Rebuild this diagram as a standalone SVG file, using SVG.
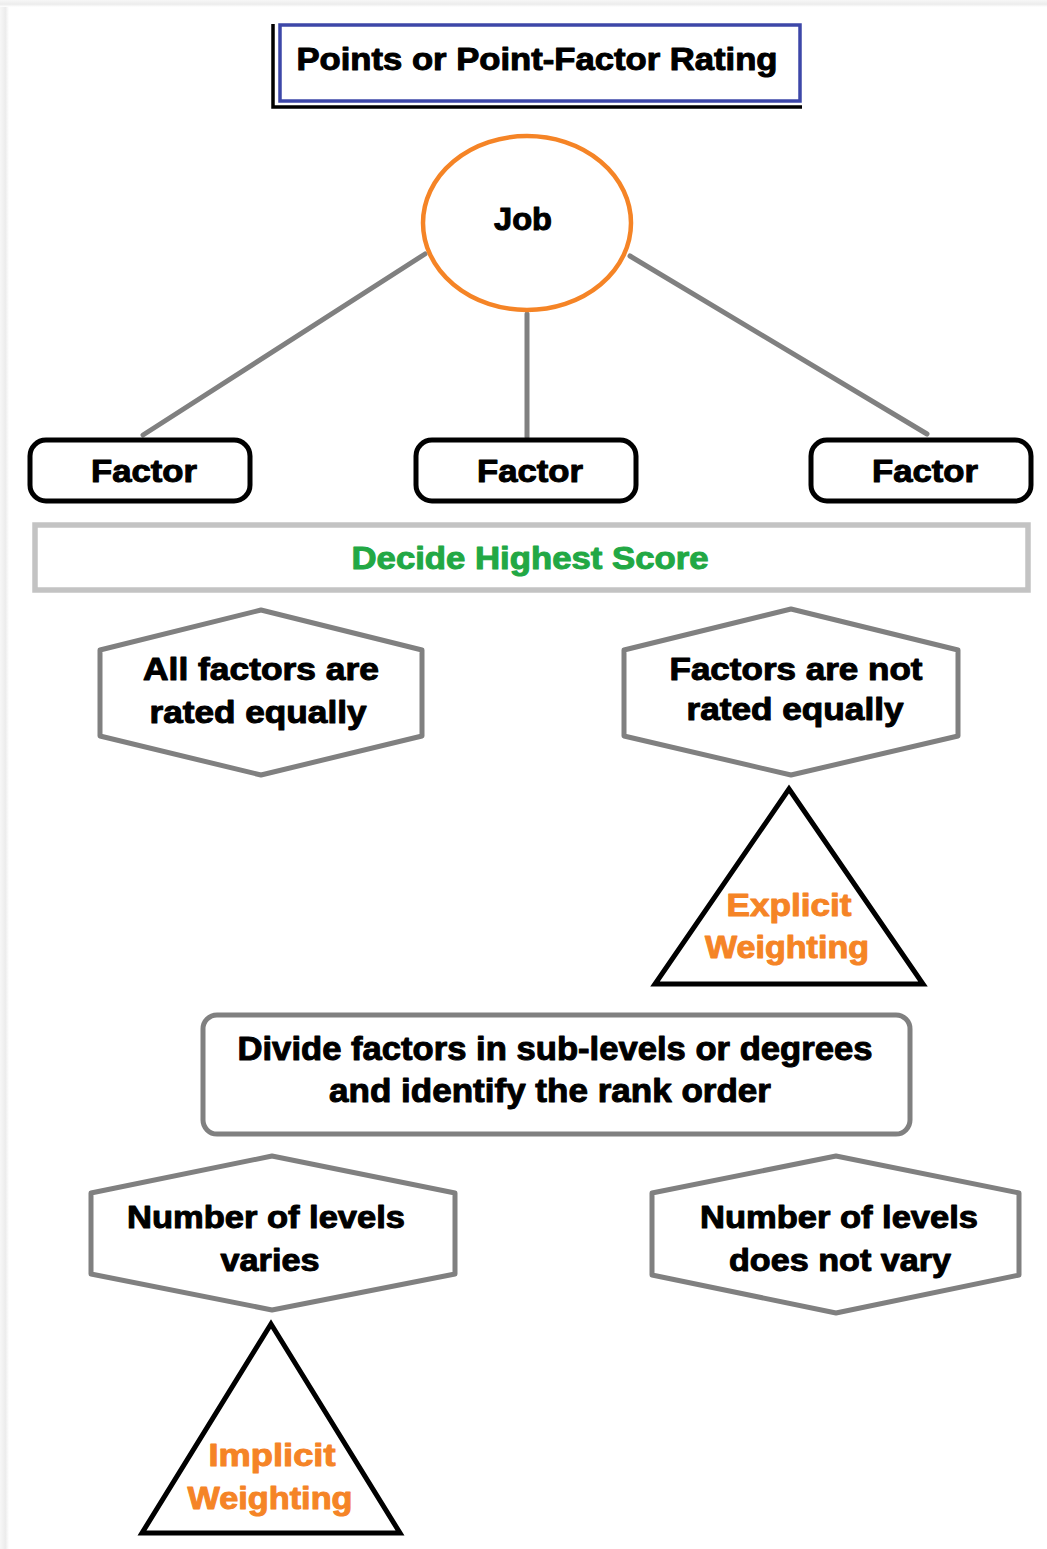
<svg xmlns="http://www.w3.org/2000/svg" width="1047" height="1549" viewBox="0 0 1047 1549">
  <defs>
    <linearGradient id="edgeL" x1="0" y1="0" x2="1" y2="0">
      <stop offset="0" stop-color="#f7f7f7"/>
      <stop offset="0.6" stop-color="#ececec"/>
      <stop offset="1" stop-color="#ffffff"/>
    </linearGradient>
    <linearGradient id="edgeT" x1="0" y1="0" x2="0" y2="1">
      <stop offset="0" stop-color="#f7f7f7"/>
      <stop offset="0.6" stop-color="#ececec"/>
      <stop offset="1" stop-color="#ffffff"/>
    </linearGradient>
  </defs>
  <style>
    text { font-family: "Liberation Sans", Arial, sans-serif; font-weight: bold; font-size: 31px; text-anchor: middle; stroke-width: 1; stroke-linejoin: round; }
    .dark { fill: #000000; stroke: #000000; }
    .orange { fill: #f58426; stroke: #f58426; }
    .green { fill: #22a844; stroke: #22a844; }
    .tall { font-size: 33px; }
    .hex { fill: #ffffff; stroke: #808080; stroke-width: 5; stroke-linejoin: round; }
    .tri { fill: #ffffff; stroke: #000000; stroke-width: 5; stroke-linejoin: miter; }
    .factor { fill: #ffffff; stroke: #000000; stroke-width: 5; }
    .link { stroke: #808080; stroke-width: 5; stroke-linecap: round; fill: none; }
  </style>

  <!-- page -->
  <rect x="0" y="0" width="1047" height="1549" fill="#ffffff"/>
  <rect x="0" y="0" width="9" height="1549" fill="url(#edgeL)"/>
  <rect x="0" y="0" width="1047" height="7" fill="url(#edgeT)"/>

  <!-- connectors from Job to the factors -->
  <g id="connectors">
    <line class="link" x1="425" y1="254" x2="143" y2="435"/>
    <line class="link" x1="527" y1="314" x2="527" y2="437"/>
    <line class="link" x1="630" y1="256" x2="927" y2="434"/>
  </g>

  <!-- title -->
  <g id="title">
    <polyline points="273,24 273,107 802,107" fill="none" stroke="#000000" stroke-width="3.5"/>
    <rect x="280" y="25" width="520" height="76" fill="#ffffff" stroke="#3d47a8" stroke-width="3.5"/>
    <text class="dark" x="537" y="70" textLength="481" lengthAdjust="spacingAndGlyphs">Points or Point-Factor Rating</text>
  </g>

  <!-- job -->
  <g id="job">
    <ellipse cx="527" cy="223" rx="104" ry="87" fill="#ffffff" stroke="#f58426" stroke-width="4.5"/>
    <text class="dark" x="523" y="230" textLength="58" lengthAdjust="spacingAndGlyphs">Job</text>
  </g>

  <!-- factors -->
  <g id="factor-1">
    <rect class="factor" x="30" y="440" width="220" height="61" rx="16" ry="16"/>
    <text class="dark" x="144" y="482" textLength="106" lengthAdjust="spacingAndGlyphs">Factor</text>
  </g>
  <g id="factor-2">
    <rect class="factor" x="416" y="440" width="220" height="61" rx="16" ry="16"/>
    <text class="dark" x="530" y="482" textLength="106" lengthAdjust="spacingAndGlyphs">Factor</text>
  </g>
  <g id="factor-3">
    <rect class="factor" x="811" y="440" width="220" height="61" rx="16" ry="16"/>
    <text class="dark" x="925" y="482" textLength="106" lengthAdjust="spacingAndGlyphs">Factor</text>
  </g>

  <!-- decide highest score -->
  <g id="decide">
    <rect x="35" y="525" width="993" height="65" fill="#ffffff" stroke="#c3c3c3" stroke-width="5.5"/>
    <text class="green" x="530" y="569" textLength="357" lengthAdjust="spacingAndGlyphs">Decide Highest Score</text>
  </g>

  <!-- equal rating -->
  <g id="equal">
    <polygon class="hex" points="261,610 422,650 422,736 261,775 100,736 100,650"/>
    <text class="dark" x="261" y="680" textLength="236" lengthAdjust="spacingAndGlyphs">All factors are</text>
    <text class="dark" x="258" y="723" textLength="217" lengthAdjust="spacingAndGlyphs">rated equally</text>
  </g>

  <!-- unequal rating -->
  <g id="unequal">
    <polygon class="hex" points="791,609 958,650 958,736 791,775 624,736 624,650"/>
    <text class="dark" x="796" y="680" textLength="253" lengthAdjust="spacingAndGlyphs">Factors are not</text>
    <text class="dark" x="795" y="720" textLength="217" lengthAdjust="spacingAndGlyphs">rated equally</text>
  </g>

  <!-- explicit weighting -->
  <g id="explicit">
    <polygon class="tri" points="789,789 923,984 655,984"/>
    <text class="orange" x="789" y="916" textLength="125" lengthAdjust="spacingAndGlyphs">Explicit</text>
    <text class="orange" x="787" y="958" textLength="164" lengthAdjust="spacingAndGlyphs">Weighting</text>
  </g>

  <!-- divide factors -->
  <g id="divide">
    <rect x="203" y="1015" width="707" height="119" rx="14" ry="14" fill="#ffffff" stroke="#808080" stroke-width="5"/>
    <text class="dark tall" x="555" y="1060" textLength="635" lengthAdjust="spacingAndGlyphs">Divide factors in sub-levels or degrees</text>
    <text class="dark tall" x="550" y="1102" textLength="442" lengthAdjust="spacingAndGlyphs">and identify the rank order</text>
  </g>

  <!-- levels vary -->
  <g id="levels-vary">
    <polygon class="hex" points="272,1156 455,1193 455,1274 272,1310 91,1274 91,1193"/>
    <text class="dark" x="266" y="1228" textLength="278" lengthAdjust="spacingAndGlyphs">Number of levels</text>
    <text class="dark" x="270" y="1271" textLength="99" lengthAdjust="spacingAndGlyphs">varies</text>
  </g>

  <!-- implicit weighting -->
  <g id="implicit">
    <polygon class="tri" points="271,1324 400,1533 142,1533"/>
    <text class="orange" x="272" y="1466" textLength="127" lengthAdjust="spacingAndGlyphs">Implicit</text>
    <text class="orange" x="270" y="1509" textLength="165" lengthAdjust="spacingAndGlyphs">Weighting</text>
  </g>

  <!-- levels do not vary -->
  <g id="levels-fixed">
    <polygon class="hex" points="836,1156 1019,1193 1019,1275 836,1313 652,1275 652,1193"/>
    <text class="dark" x="839" y="1228" textLength="278" lengthAdjust="spacingAndGlyphs">Number of levels</text>
    <text class="dark" x="840" y="1271" textLength="222" lengthAdjust="spacingAndGlyphs">does not vary</text>
  </g>
</svg>
